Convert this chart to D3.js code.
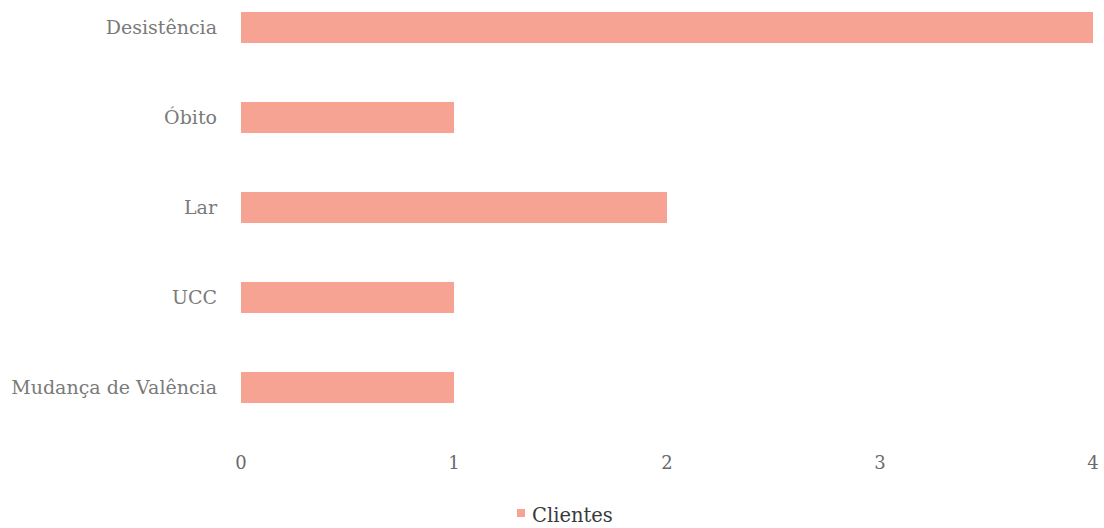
<!DOCTYPE html>
<html>
<head>
<meta charset="utf-8">
<script src="https://cdn.jsdelivr.net/npm/d3@7.9.0/dist/d3.min.js"></script>
<style>
  body { margin: 0; background: #fff; }
</style>
</head>
<body>
<svg id="chart" width="1104" height="528"></svg>
<script>
const categories = ["Desistência", "Óbito", "Lar", "UCC", "Mudança de Valência"];
const clientes = [4, 1, 2, 1, 1];
const xTicks = [0, 1, 2, 3, 4];
const seriesName = "Clientes";

const fontFamily = "'DejaVu Serif', 'Liberation Serif', serif";
const width = 1104, height = 528;
const svg = d3.select("#chart");
const barColor = "#f7a394";

const x = d3.scaleLinear()
  .domain([0, 4])
  .range([241, 1093]);

const p = 0.655;
const y = d3.scaleBand()
  .domain(categories)
  .range([-17.5, 432.5])
  .paddingInner(p)
  .paddingOuter(p / 2);

svg.append("g")
  .selectAll("rect")
  .data(categories)
  .join("rect")
    .attr("x", x(0))
    .attr("y", d => y(d))
    .attr("width", (d, i) => x(clientes[i]) - x(0))
    .attr("height", y.bandwidth())
    .attr("fill", barColor);

// category labels
svg.append("g")
  .selectAll("text")
  .data(categories)
  .join("text")
    .attr("x", 217)
    .attr("y", d => y(d) + y.bandwidth() / 2)
    .attr("dy", "0.35em")
    .attr("text-anchor", "end")
    .attr("font-family", fontFamily)
    .style("font-size", "19px")
    .style("fill", "#7a7a7a")
    .text(d => d);

// value axis labels
svg.append("g")
  .selectAll("text")
  .data(xTicks)
  .join("text")
    .attr("x", d => x(d))
    .attr("y", 469)
    .attr("text-anchor", "middle")
    .attr("font-family", fontFamily)
    .style("font-size", "18px")
    .style("fill", "#6a6a6a")
    .text(d => d);

// legend
const legend = svg.append("g").attr("transform", "translate(517,509)");
legend.append("rect")
  .attr("width", 8)
  .attr("height", 8)
  .attr("fill", barColor);
legend.append("text")
  .attr("x", 15)
  .attr("y", 13)
  .attr("font-family", fontFamily)
  .style("font-size", "19.5px")
  .style("fill", "#3a3a3a")
  .text(seriesName);
</script>
</body>
</html>
